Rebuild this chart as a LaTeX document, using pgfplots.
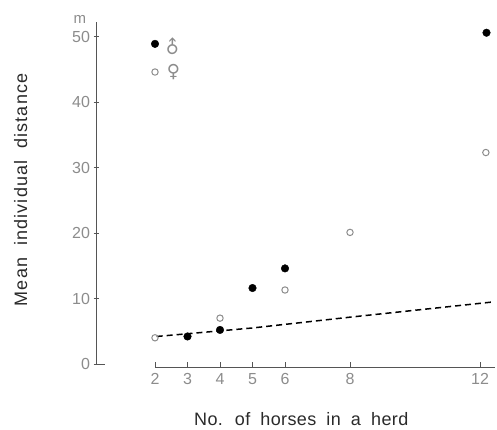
\documentclass[border=0pt]{standalone}
\usepackage{pgfplots}
\pgfplotsset{compat=1.18}
\usepackage{fontspec}
\setmainfont{Liberation Sans}
\newfontfamily\symfont{DejaVu Sans}
\newfontfamily\ylabfont[WordSpace=1.9,LetterSpace=6.5]{Liberation Sans}
\newfontfamily\xlabfont[WordSpace=1.9,LetterSpace=2]{Liberation Sans}
\definecolor{tickgray}{HTML}{8C8C8C}
\definecolor{axgray}{HTML}{555555}
\definecolor{labgray}{HTML}{2A2A2A}
\begin{document}
\begin{tikzpicture}
\useasboundingbox (-96.5pt,-62.1pt) rectangle (400.5pt,367.9pt);
\begin{axis}[
 scale only axis, width=399.75pt, height=347.6pt,
 xmin=0.2, xmax=12.5, ymin=-0.6, ymax=52.5,
 axis line style={draw=none},
 xtick={2,3,4,5,6,8,12}, ytick={0,10,20,30,40,50},
 xtick pos=bottom, ytick pos=left,
 xtick align=inside, ytick align=center,
 major tick length=6pt,
 tick style={axgray, line width=0.6pt},
 ticklabel style={font=\fontsize{16}{16}\selectfont, text=tickgray},
 xticklabel style={yshift=-2pt},
 /pgf/number format/assume math mode=true,
 clip=false,
]
\addplot[black, line width=1.5pt, dash pattern=on 6pt off 4pt] coordinates {(2.05,4.2) (5,5.5) (8,7.15) (12.45,9.5)};
\addplot[only marks, mark=*, mark size=3.8pt, black] coordinates {(2,48.9) (3,4.2) (4,5.2) (5,11.6) (6,14.6) (12.2,50.6)};
\addplot[only marks, mark=o, mark size=3.2pt, draw=tickgray, line width=1pt] coordinates {(2,44.6) (2,4.0) (4,7.0) (6,11.3) (8,20.1) (12.18,32.3)};
\draw[axgray, line width=0.8pt] (axis cs:0.45,0) -- (axis cs:0.2,0) -- (axis cs:0.2,52.3);
\draw[axgray, line width=0.8pt] (axis cs:2,-0.6) -- (axis cs:12.45,-0.6);
\node[text=tickgray, font=\fontsize{15}{15}\selectfont] at (axis cs:-0.31,52.7) {m};
\node[rotate=90, text=labgray, font=\ylabfont\fontsize{18}{18}\selectfont] at (axis cs:-2.13,26.6) {Mean individual distance};
\node[text=labgray, font=\xlabfont\fontsize{18}{18}\selectfont] at (axis cs:6.5,-8.4) {No. of horses in a herd};
\node[text=tickgray, font=\symfont\fontsize{18}{18}\selectfont, rotate=45] at (axis cs:2.55,48.3) {♂};
\node[text=tickgray, font=\symfont\fontsize{18}{18}\selectfont] at (axis cs:2.57,44.6) {♀};
\end{axis}
\end{tikzpicture}
\end{document}
